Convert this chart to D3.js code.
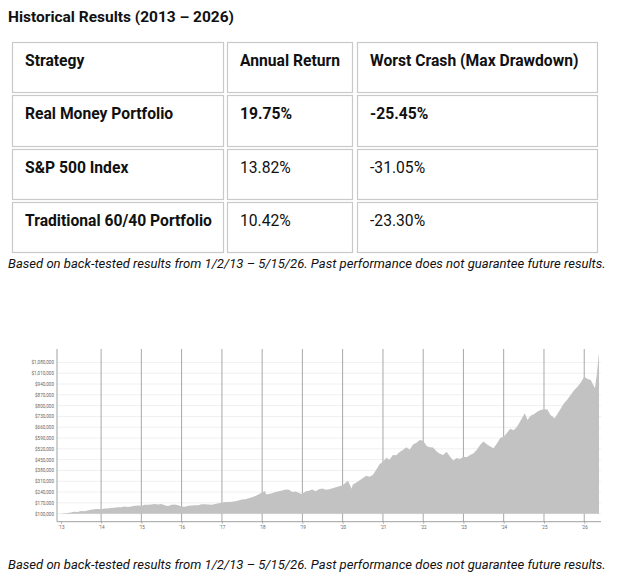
<!DOCTYPE html>
<html>
<head>
<meta charset="utf-8">
<script src="https://cdn.jsdelivr.net/npm/d3@7"></script>
<style>
  html, body { margin: 0; padding: 0; background: #fff; }
  svg { display: block; }
</style>
</head>
<body>
<svg id="chart" width="617" height="583"></svg>
<script>
// ---------------- DATA ----------------
const titleText = "Historical Results (2013 \u2013 2026)";
const tableHeaders = ["Strategy", "Annual Return", "Worst Crash (Max Drawdown)"];
const strategies = ["Real Money Portfolio", "S&P 500 Index", "Traditional 60/40 Portfolio"];
const annualReturns = ["19.75%", "13.82%", "10.42%"];
const maxDrawdowns = ["-25.45%", "-31.05%", "-23.30%"];
const boldRows = [true, false, false];
const captionText = "Based on back-tested results from 1/2/13 \u2013 5/15/26. Past performance does not guarantee future results.";

const yTicks = [100000, 170000, 240000, 310000, 380000, 450000, 520000, 590000, 660000, 730000, 800000, 870000, 940000, 1010000, 1080000];
const xTickDates = ["2013-01-02","2014-01-01","2015-01-01","2016-01-01","2017-01-01","2018-01-01","2019-01-01","2020-01-01","2021-01-01","2022-01-01","2023-01-01","2024-01-01","2025-01-01","2026-01-01"];
const xTickLabels = ["'13","'14","'15","'16","'17","'18","'19","'20","'21","'22","'23","'24","'25","'26"];

const dates = [
 "2013-01-02","2013-02-01","2013-03-01","2013-04-01","2013-05-01","2013-06-01","2013-07-01","2013-08-01","2013-09-01","2013-10-01","2013-11-01","2013-12-01",
 "2014-01-01","2014-02-01","2014-03-01","2014-04-01","2014-05-01","2014-06-01","2014-07-01","2014-08-01","2014-09-01","2014-10-01","2014-11-01","2014-12-01",
 "2015-01-01","2015-02-01","2015-03-01","2015-04-01","2015-05-01","2015-06-01","2015-07-01","2015-08-01","2015-09-01","2015-10-01","2015-11-01","2015-12-01",
 "2016-01-01","2016-02-01","2016-03-01","2016-04-01","2016-05-01","2016-06-01","2016-07-01","2016-08-01","2016-09-01","2016-10-01","2016-11-01","2016-12-01",
 "2017-01-01","2017-02-01","2017-03-01","2017-04-01","2017-05-01","2017-06-01","2017-07-01","2017-08-01","2017-09-01","2017-10-01","2017-11-01","2017-12-01",
 "2018-01-26","2018-02-08","2018-03-01","2018-04-01","2018-05-01","2018-06-01","2018-07-01","2018-08-01","2018-09-01","2018-10-01","2018-11-01","2018-12-24",
 "2019-01-15","2019-02-01","2019-03-01","2019-04-01","2019-05-01","2019-06-01","2019-07-01","2019-08-01","2019-09-01","2019-10-01","2019-11-01","2019-12-01",
 "2020-01-01","2020-02-19","2020-03-23","2020-04-01","2020-05-01","2020-06-01","2020-07-01","2020-08-01","2020-09-01","2020-10-01","2020-11-01","2020-12-01",
 "2021-01-01","2021-02-01","2021-03-01","2021-04-01","2021-05-01","2021-06-01","2021-07-01","2021-08-01","2021-09-01","2021-10-01","2021-11-01","2021-12-01",
 "2022-01-01","2022-02-01","2022-03-01","2022-04-01","2022-05-01","2022-06-01","2022-07-01","2022-08-01","2022-09-01","2022-10-01","2022-11-01","2022-12-01",
 "2023-01-01","2023-02-01","2023-03-01","2023-04-01","2023-05-01","2023-06-01","2023-07-01","2023-08-01","2023-09-01","2023-10-01","2023-11-01","2023-12-01",
 "2024-01-01","2024-02-01","2024-03-01","2024-04-01","2024-05-01","2024-06-01","2024-07-10","2024-08-05","2024-09-01","2024-10-01","2024-11-01","2024-12-01",
 "2025-01-01","2025-02-01","2025-03-01","2025-04-08","2025-05-01","2025-06-01","2025-07-01","2025-08-01","2025-09-01","2025-10-01","2025-11-01","2025-12-01",
 "2026-01-01","2026-02-01","2026-03-01","2026-04-08","2026-04-25","2026-05-15"
];
const portfolioValueK = [
 100,102,105,108,112,111,117,116,121,125,129,131,
 128,133,134,136,139,142,141,146,144,147,152,153,
 151,158,158,160,162,159,162,154,150,158,159,154,
 146,145,152,153,155,155,161,161,160,158,163,167,
 170,176,176,178,181,185,192,194,200,206,215,226,
 247,224,228,232,240,245,250,256,255,240,244,228,
 236,246,249,256,246,258,263,255,258,264,272,278,
 284,314,262,288,300,315,330,345,340,350,385,420,
 437,462,450,480,478,500,512,530,515,548,560,578,
 572,538,530,528,505,488,480,502,470,444,460,455,
 469,465,480,490,513,545,567,550,535,524,555,590,
 599,625,650,640,664,700,751,707,735,745,760,772,
 777,775,740,718,745,780,815,840,870,900,923,950,
 988,972,966,912,1000,1143
];
const startValue = 100000;

// ---------------- DRAW ----------------
const svg = d3.select("#chart");
const FONT = "Roboto, 'Liberation Sans', sans-serif";

function fitWidth(sel, target) {
  const w = sel.node().getComputedTextLength();
  const fs = parseFloat(sel.attr("font-size"));
  sel.attr("font-size", (fs * target / w).toFixed(2));
}

// Title
const title = svg.append("text")
  .attr("x", 8).attr("y", 22)
  .attr("font-family", FONT).attr("font-weight", "bold").attr("font-size", 14)
  .attr("fill", "#111").text(titleText);
fitWidth(title, 226);

// Table
const colX = [12, 227, 357];
const colW = [211, 125, 240];
const rowY = [42, 95, 149, 202];
const rowH = [50, 51, 50, 50];
const tableRows = [tableHeaders].concat(strategies.map((s, i) => [s, annualReturns[i], maxDrawdowns[i]]));

const tg = svg.append("g");
tableRows.forEach((row, r) => {
  row.forEach((cell, c) => {
    tg.append("rect")
      .attr("x", colX[c] + 0.5).attr("y", rowY[r] + 0.5)
      .attr("width", colW[c]).attr("height", rowH[r])
      .attr("fill", "none").attr("stroke", "#c9c9c9").attr("stroke-width", 1.2);
  });
});

// measure scale for table font
const probe = tg.append("text").attr("font-family", FONT).attr("font-weight", "bold")
  .attr("font-size", 14).text("Traditional 60/40 Portfolio");
const tableFs = 14 * 187 / probe.node().getComputedTextLength();
probe.remove();

tableRows.forEach((row, r) => {
  row.forEach((cell, c) => {
    const bold = r === 0 || c === 0 || (boldRows[r - 1]);
    tg.append("text")
      .attr("x", colX[c] + 13).attr("y", rowY[r] + 24)
      .attr("font-family", FONT)
      .attr("font-weight", bold ? "bold" : "normal")
      .attr("font-size", tableFs.toFixed(2))
      .attr("fill", "#111")
      .text(cell);
  });
});

// Captions
[268, 569].forEach(yy => {
  const cap = svg.append("text")
    .attr("x", 8).attr("y", yy)
    .attr("font-family", FONT).attr("font-style", "italic").attr("font-size", 11.5)
    .attr("fill", "#111").text(captionText);
  fitWidth(cap, 598);
});

// Chart
const parse = d3.timeParse("%Y-%m-%d");
const series = dates.map((d, i) => ({ date: parse(d), value: portfolioValueK[i] * 1000 }));

const x = d3.scaleTime()
  .domain([parse("2013-01-02"), parse("2026-05-15")])
  .range([61, 599]);
const y = d3.scaleLinear()
  .domain([48000, 1167000])
  .range([521.7, 349]);

const axisLeft = 57, axisRight = 601;
const cg = svg.append("g");

// horizontal gridlines
cg.append("g").selectAll("line").data(yTicks).join("line")
  .attr("x1", axisLeft).attr("x2", axisRight)
  .attr("y1", d => y(d)).attr("y2", d => y(d))
  .attr("stroke", "#ececec").attr("stroke-width", 0.8);

// vertical year gridlines
cg.append("g").selectAll("line").data(xTickDates.slice(1)).join("line")
  .attr("x1", d => x(parse(d))).attr("x2", d => x(parse(d)))
  .attr("y1", 349).attr("y2", 521.7)
  .attr("stroke", "#a8a8a8").attr("stroke-width", 1);

// area
const area = d3.area()
  .x(d => x(d.date))
  .y0(y(startValue))
  .y1(d => y(d.value))
  .curve(d3.curveLinear);
cg.append("path").datum(series)
  .attr("d", area)
  .attr("fill", "#c2c2c2");

// y axis
const yAxis = d3.axisLeft(y).tickValues(yTicks).tickSize(0).tickPadding(3)
  .tickFormat(d3.format("$,"));
const yg = cg.append("g").attr("transform", `translate(${axisLeft},0)`).call(yAxis);
yg.select(".domain").remove();
yg.selectAll("text").attr("font-family", FONT).attr("font-size", 4.6).attr("fill", "#666");
cg.append("line").attr("x1", axisLeft).attr("x2", axisLeft).attr("y1", 349).attr("y2", 521.7)
  .attr("stroke", "#888").attr("stroke-width", 0.8);

// x axis
const xAxis = d3.axisBottom(x).tickValues(xTickDates.map(parse)).tickSize(2).tickPadding(2)
  .tickFormat((d, i) => xTickLabels[i]);
const xg = cg.append("g").attr("transform", "translate(0,521.7)").call(xAxis);
xg.select(".domain").remove();
xg.selectAll(".tick line").attr("stroke", "#888").attr("stroke-width", 0.6);
xg.selectAll("text").attr("font-family", FONT).attr("font-size", 4.6).attr("fill", "#666");
cg.append("line").attr("x1", axisLeft).attr("x2", axisRight).attr("y1", 521.7).attr("y2", 521.7)
  .attr("stroke", "#888").attr("stroke-width", 0.8);
</script>
</body>
</html>
